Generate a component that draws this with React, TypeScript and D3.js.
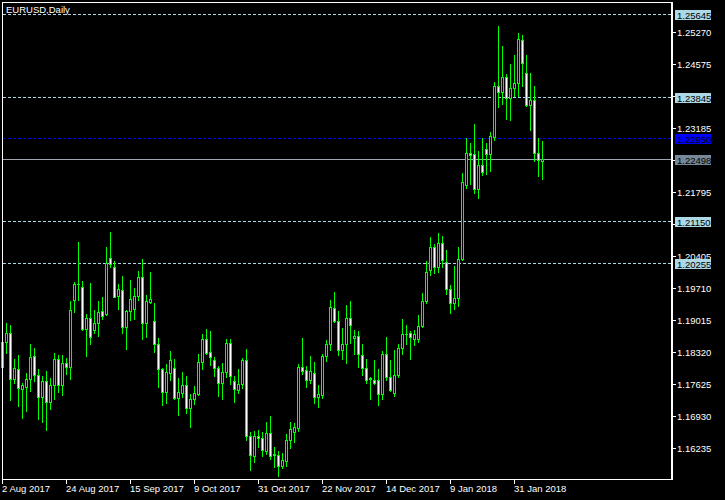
import React from 'react';
import * as d3 from 'd3';

const openP = [
  1.17999, 1.18543, 1.18725, 1.17738, 1.17941, 1.17505, 1.17563, 1.17723, 1.18224, 1.17810,
  1.17346, 1.17680, 1.17222, 1.17592, 1.18159, 1.17607, 1.18086, 1.17999, 1.19443, 1.19791,
  1.19726, 1.18826, 1.19044, 1.18797, 1.18942, 1.19204, 1.19146, 1.20358, 1.20162, 1.19523,
  1.19654, 1.18848, 1.19196, 1.19247, 1.19523, 1.19944, 1.18942, 1.19392, 1.18979, 1.18485,
  1.17948, 1.17455, 1.17854, 1.17963, 1.17324, 1.17433, 1.17592, 1.17106, 1.17302, 1.17404,
  1.18093, 1.18601, 1.18311, 1.18137, 1.17963, 1.17651, 1.17876, 1.18514, 1.17680, 1.17498,
  1.17614, 1.18137, 1.16497, 1.16061, 1.16497, 1.16460, 1.16163, 1.16569, 1.16076, 1.16090,
  1.15851, 1.15952, 1.16417, 1.16584, 1.16671, 1.17984, 1.17919, 1.17701, 1.17854, 1.17331,
  1.17389, 1.18224, 1.18485, 1.19269, 1.18986, 1.18369, 1.18485, 1.19051, 1.18630, 1.18659,
  1.18246, 1.17963, 1.17723, 1.17701, 1.17701, 1.17411, 1.18267, 1.17781, 1.17433, 1.17810,
  1.18398, 1.18703, 1.18725, 1.18601, 1.18601, 1.18877, 1.19421, 1.20089, 1.20597, 1.20154,
  1.20684, 1.20270, 1.19683, 1.19378, 1.19487, 1.20336, 1.21940, 1.22644, 1.22607, 1.21853,
  1.22382, 1.22716, 1.22615, 1.22992, 1.24081, 1.23950, 1.24277, 1.23819, 1.24037, 1.24146,
  1.25082, 1.24364, 1.23667, 1.23776, 1.22644, 1.22462,
];
const highP = [
  1.18616, 1.18942, 1.18899, 1.18159, 1.18246, 1.17636, 1.17854, 1.18485, 1.18398, 1.17941,
  1.17796, 1.17897, 1.17745, 1.18289, 1.18246, 1.18246, 1.18180, 1.19421, 1.19842, 1.20706,
  1.19850, 1.19138, 1.19813, 1.19233, 1.19421, 1.19508, 1.20597, 1.20924, 1.20292, 1.19791,
  1.19973, 1.19233, 1.19886, 1.19704, 1.20082, 1.20336, 1.19552, 1.20060, 1.19385, 1.18616,
  1.17977, 1.18057, 1.18340, 1.18159, 1.17752, 1.17883, 1.17796, 1.17411, 1.17578, 1.18275,
  1.18710, 1.18819, 1.18775, 1.18202, 1.18013, 1.18079, 1.18601, 1.18601, 1.17796, 1.17941,
  1.18188, 1.18384, 1.16576, 1.16598, 1.16613, 1.16576, 1.16794, 1.16925, 1.16250, 1.16163,
  1.16126, 1.16547, 1.16794, 1.16772, 1.18057, 1.18616, 1.18006, 1.18231, 1.18100, 1.17592,
  1.18275, 1.18572, 1.19450, 1.19625, 1.19211, 1.18841, 1.19342, 1.19429, 1.18797, 1.18775,
  1.18492, 1.18173, 1.17781, 1.18151, 1.17948, 1.18340, 1.18645, 1.18144, 1.18362, 1.18492,
  1.19037, 1.18906, 1.18775, 1.18797, 1.19124, 1.19603, 1.20292, 1.20822, 1.20670, 1.20909,
  1.20844, 1.20539, 1.19777, 1.20191, 1.20604, 1.22208, 1.22956, 1.22847, 1.23260, 1.22673,
  1.22956, 1.22850, 1.23086, 1.24175, 1.25394, 1.24951, 1.24349, 1.24567, 1.24763, 1.25242,
  1.25198, 1.24763, 1.24371, 1.24088, 1.22956, 1.22890,
];
const lowP = [
  1.17963, 1.18304, 1.17273, 1.17636, 1.17150, 1.16888, 1.17041, 1.17476, 1.17687, 1.16867,
  1.16801, 1.16627, 1.17084, 1.17295, 1.17447, 1.17389, 1.17846, 1.17738, 1.19175, 1.19443,
  1.18797, 1.18238, 1.18492, 1.18725, 1.18674, 1.19029, 1.19124, 1.20154, 1.19501, 1.19254,
  1.18739, 1.18391, 1.19015, 1.19037, 1.19450, 1.18608, 1.18652, 1.19371, 1.18325, 1.17563,
  1.17171, 1.17215, 1.17709, 1.17302, 1.16946, 1.17346, 1.16990, 1.16685, 1.17186, 1.17375,
  1.17948, 1.18267, 1.18035, 1.17796, 1.17360, 1.17302, 1.17767, 1.17622, 1.17230, 1.17426,
  1.17534, 1.16402, 1.15749, 1.15923, 1.16257, 1.16054, 1.16112, 1.15989, 1.15821, 1.15630,
  1.15793, 1.15851, 1.16228, 1.16359, 1.16598, 1.17839, 1.17564, 1.17636, 1.17208, 1.17121,
  1.17324, 1.18130, 1.18369, 1.18964, 1.18253, 1.18166, 1.18079, 1.18507, 1.18275, 1.17999,
  1.17810, 1.17636, 1.17295, 1.17629, 1.17171, 1.17295, 1.17701, 1.17476, 1.17367, 1.17767,
  1.18282, 1.18492, 1.18173, 1.18478, 1.18536, 1.18855, 1.19371, 1.19995, 1.20024, 1.20045,
  1.20169, 1.19566, 1.19153, 1.19240, 1.19305, 1.20321, 1.21867, 1.21954, 1.21758, 1.21649,
  1.22150, 1.22190, 1.22244, 1.22919, 1.23638, 1.23696, 1.23377, 1.23355, 1.23863, 1.23863,
  1.24095, 1.23645, 1.23137, 1.22469, 1.22136, 1.22070,
];
const closeP = [
  1.18543, 1.18725, 1.17723, 1.17963, 1.17527, 1.17600, 1.17723, 1.18202, 1.17810, 1.17346,
  1.17680, 1.17237, 1.17592, 1.18159, 1.17607, 1.18086, 1.17999, 1.19225, 1.19791, 1.19784,
  1.18812, 1.19044, 1.18638, 1.18942, 1.19182, 1.19088, 1.20249, 1.20227, 1.19516, 1.19683,
  1.18848, 1.19211, 1.19465, 1.19523, 1.19944, 1.18942, 1.19421, 1.19465, 1.18485, 1.17941,
  1.17455, 1.17876, 1.18137, 1.17324, 1.17440, 1.17592, 1.17106, 1.17288, 1.17418, 1.18093,
  1.18601, 1.18289, 1.18202, 1.17963, 1.17651, 1.17876, 1.18514, 1.17803, 1.17505, 1.17614,
  1.18137, 1.16497, 1.16083, 1.16497, 1.16460, 1.16199, 1.16569, 1.16054, 1.16112, 1.15844,
  1.15967, 1.16417, 1.16635, 1.16678, 1.17984, 1.17912, 1.17701, 1.17905, 1.17331, 1.17397,
  1.18224, 1.18485, 1.19291, 1.18986, 1.18369, 1.18485, 1.19051, 1.18913, 1.18659, 1.18267,
  1.17963, 1.17716, 1.17745, 1.17650, 1.17411, 1.18267, 1.17781, 1.17491, 1.17810, 1.18398,
  1.18703, 1.18717, 1.18638, 1.18703, 1.18877, 1.19421, 1.20053, 1.20597, 1.20154, 1.20684,
  1.20307, 1.19683, 1.19378, 1.19487, 1.20329, 1.22012, 1.22644, 1.22593, 1.21853, 1.22382,
  1.22223, 1.22615, 1.23006, 1.24081, 1.23950, 1.24277, 1.23819, 1.24037, 1.24146, 1.25104,
  1.24581, 1.23681, 1.23776, 1.22644, 1.22477, 1.22498,
];

const priceTicks = [
  '1.16235', '1.16930', '1.17625', '1.18320', '1.19015', '1.19710', '1.20405',
  '1.21100', '1.21795', '1.22490', '1.23185', '1.23880', '1.24575', '1.25270',
];
const dateLabels = [
  '2 Aug 2017', '24 Aug 2017', '15 Sep 2017', '9 Oct 2017', '31 Oct 2017',
  '22 Nov 2017', '14 Dec 2017', '9 Jan 2018', '31 Jan 2018',
];
const dateLabelIndex = [0, 16, 32, 48, 64, 80, 96, 112, 128];
const lightLevels = [1.25645, 1.23845, 1.2115, 1.20255];
const blueLevel = 1.2295;
const bidLevel = 1.22498;
const title = 'EURUSD,Daily';

export default function App() {
  const W = 725;
  const H = 500;
  const left = 2;
  const top = 2;
  const right = 671;
  const bottom = 479;
  const x = d3.scaleLinear().domain([0, 135]).range([2, 542]);
  const y = d3.scaleLinear().domain([1.16235, 1.25645]).range([447.9, 14.3]);
  const font = "'Liberation Sans', Arial, sans-serif";
  const fs = 9.5;
  const lime = '#00ff00';
  const ry = (v: number) => Math.round(y(v));
  const boxLevels = [...lightLevels, blueLevel, bidLevel];
  // tick labels that lie fully under a level box are hidden in the reference
  const visibleTicks = priceTicks.filter(
    (t) => !boxLevels.some((b) => Math.abs(ry(+t) - ry(b)) < 4)
  );

  const candles = openP.map((o, i) => {
    const c = closeP[i];
    const cx = Math.round(x(i));
    const hy = ry(highP[i]);
    const ly = ry(lowP[i]);
    const bt = ry(Math.max(o, c));
    const bb = ry(Math.min(o, c));
    const bear = c < o;
    return (
      <g key={i}>
        <rect x={cx} y={hy} width={1} height={Math.max(1, ly - hy + 1)} fill={lime} />
        <rect x={cx - 1} y={bt} width={3} height={bb - bt + 1} fill={lime} />
        {bb - bt - 1 > 0 && (
          <rect x={cx} y={bt + 1} width={1} height={bb - bt - 1} fill={bear ? '#ffffff' : '#000000'} />
        )}
      </g>
    );
  });

  const box = (v: number, bg: string, fg: string, key: string) => {
    const yy = ry(v);
    return (
      <g key={key}>
        <rect x={675} y={yy - 4} width={36} height={10} fill={bg} shapeRendering="crispEdges" />
        <text x={677} y={yy + 4.5} fill={fg} fontSize={fs} fontFamily={font}>
          {v.toFixed(5)}
        </text>
      </g>
    );
  };

  return (
    <svg
      width={W}
      height={H}
      style={{ position: 'fixed', left: 0, top: 0, display: 'block', background: '#000' }}
    >
      <rect x={0} y={0} width={W} height={H} fill="#000" />
      <g shapeRendering="crispEdges">
        {lightLevels.map((v) => (
          <line key={v} x1={left + 1} x2={right} y1={ry(v) + 0.5} y2={ry(v) + 0.5}
            stroke="#add8e6" strokeDasharray="3,2" />
        ))}
        <line x1={left + 1} x2={right} y1={ry(blueLevel) + 0.5} y2={ry(blueLevel) + 0.5}
          stroke="#0000ff" strokeDasharray="3,2" />
        <line x1={left + 1} x2={right} y1={ry(bidLevel) + 0.5} y2={ry(bidLevel) + 0.5}
          stroke="#a0a6ad" />
        {candles}
        <rect x={left} y={top} width={1} height={bottom - top + 1} fill="#fff" />
        <rect x={left} y={top} width={right - left + 2} height={1} fill="#fff" />
        <rect x={right} y={top} width={2} height={bottom - top + 1} fill="#fff" />
        <rect x={left} y={bottom} width={right - left + 2} height={1} fill="#fff" />
        {priceTicks.map((t) => (
          <rect key={t} x={673} y={ry(+t)} width={3} height={1} fill="#fff" />
        ))}
        {dateLabelIndex.map((idx) => (
          <rect key={idx} x={Math.round(x(idx))} y={bottom} width={1} height={5} fill="#fff" />
        ))}
      </g>
      <text x={6} y={13} fill="#fff" fontSize={fs} fontFamily={font}>{title}</text>
      {visibleTicks.map((t) => (
        <text key={t} x={677} y={ry(+t) + 4} fill="#fff" fontSize={fs} fontFamily={font}>{t}</text>
      ))}
      {dateLabels.map((lab, k) => (
        <text key={lab} x={Math.round(x(dateLabelIndex[k]))} y={492} fill="#fff" fontSize={fs} fontFamily={font}>
          {lab}
        </text>
      ))}
      {lightLevels.map((v) => box(v, '#add8e6', '#000', 'l' + v))}
      {box(blueLevel, '#0000ff', '#000', 'blue')}
      {box(bidLevel, '#778899', '#000', 'bid')}
    </svg>
  );
}
